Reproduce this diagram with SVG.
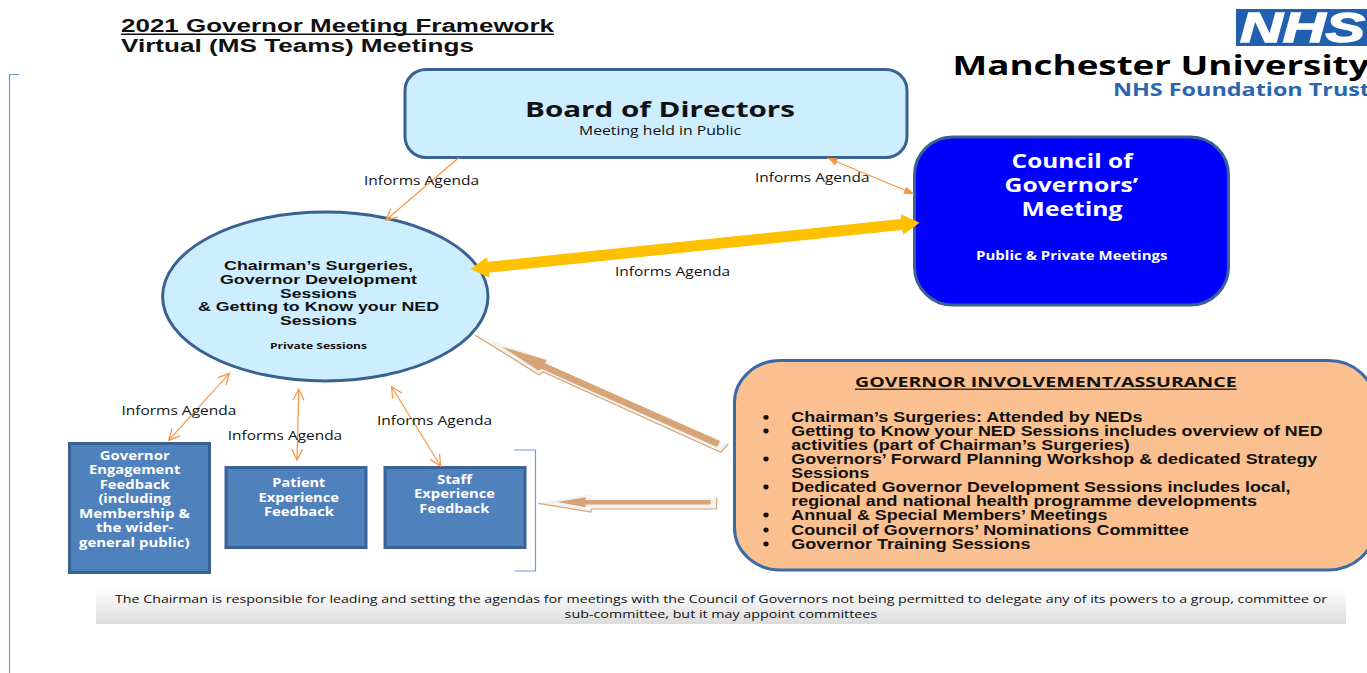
<svg xmlns="http://www.w3.org/2000/svg" width="1367" height="673" viewBox="0 0 1367 673">
<style>
text{font-family:"Open Sans","Noto Sans","DejaVu Sans",sans-serif;fill:#111}
.ar{font-family:"Liberation Sans",Arial,sans-serif;font-weight:700}
.b{font-weight:700}
.w{fill:#fff;font-weight:700}
.lbl{font-size:12px}
.box{font-size:12px}
.list{font-size:14.5px;fill:#111}
.thin{fill:none;stroke:#f79646;stroke-width:1.2}
.panel{stroke:#3a6190;stroke-width:3}
.fb{fill:#4f81bd;stroke:#3a6295;stroke-width:3}
.brk{fill:none;stroke:#6f9bd8;stroke-width:1.2}
.hollow{fill:#f2f2f2;stroke:none}
.edge{fill:none;stroke:#d6a477;stroke-width:1.2}
.core{fill:#d6a477;stroke:none}
.dot{fill:#111}
</style>
<defs>
<marker id="open" viewBox="0 0 12 12" refX="11" refY="6" markerWidth="13" markerHeight="13" markerUnits="userSpaceOnUse" orient="auto-start-reverse"><path d="M1 1L11 6L1 11" fill="none" stroke="#f79646" stroke-width="1.2"/></marker>
<marker id="solid" viewBox="0 0 10 8" refX="10" refY="4" markerWidth="10" markerHeight="8" markerUnits="userSpaceOnUse" orient="auto-start-reverse"><path d="M0 0L10 4L0 8Z" fill="#f79646"/></marker>
<marker id="gold" viewBox="0 0 18 21" refX="2" refY="10.5" markerWidth="18" markerHeight="21" markerUnits="userSpaceOnUse" orient="auto-start-reverse"><path d="M0 0L18 10.5L0 21Z" fill="#ffc000"/></marker>
<linearGradient id="band" x1="0" y1="0" x2="0" y2="1"><stop offset="0" stop-color="#fff"/><stop offset="1" stop-color="#dcdcdc"/></linearGradient>
</defs>
<rect width="1367" height="673" fill="#fff"/>

<g id="title">
<text class="ar" x="121" y="32" font-size="18" textLength="433" lengthAdjust="spacingAndGlyphs">2021 Governor Meeting Framework</text>
<rect x="121" y="33.5" width="433" height="1.5" fill="#111"/>
<text class="ar" x="121" y="52" font-size="18" textLength="353" lengthAdjust="spacingAndGlyphs">Virtual (MS Teams) Meetings</text>
</g>

<g id="logo">
<rect x="1236" y="9" width="131" height="37" fill="#2060ae"/>
<text x="1240" y="42" font-size="43" font-style="italic" textLength="125" lengthAdjust="spacingAndGlyphs" stroke="#fff" stroke-width="1.4" style="font-family:'Liberation Sans',Arial,sans-serif;font-weight:700;fill:#fff">NHS</text>
<text class="b" x="952.5" y="74.5" font-size="26.5" textLength="417" lengthAdjust="spacingAndGlyphs" style="fill:#000">Manchester University</text>
<text class="b" x="1113" y="95.5" font-size="18" textLength="257" lengthAdjust="spacingAndGlyphs" style="fill:#2a66ae">NHS Foundation Trust</text>
</g>

<path id="left-bracket" class="brk" d="M19 74.5H9.5V673"/>

<g id="footer">
<rect x="96" y="588.5" width="1250" height="35.5" fill="url(#band)"/>
<text x="115" y="603.3" font-size="11.5" textLength="1212" lengthAdjust="spacingAndGlyphs">The Chairman is responsible for leading and setting the agendas for meetings with the Council of Governors not being permitted to delegate any of its powers to a group, committee or</text>
<text x="564.6" y="618.3" font-size="11.5" textLength="312.5" lengthAdjust="spacingAndGlyphs">sub-committee, but it may appoint committees</text>
</g>

<g id="board">
<rect class="panel" x="405" y="69.5" width="502" height="88" rx="21" ry="21" fill="#cceeff"/>
<text class="b" x="525" y="117" font-size="22" textLength="270" lengthAdjust="spacingAndGlyphs">Board of Directors</text>
<text x="579" y="135" font-size="12" textLength="162" lengthAdjust="spacingAndGlyphs">Meeting held in Public</text>
</g>

<g id="council">
<rect class="panel" x="914.5" y="137" width="314" height="168" rx="38" ry="38" fill="#0000ff"/>
<text class="w" x="1011.6" y="167.7" font-size="19" textLength="121" lengthAdjust="spacingAndGlyphs">Council of</text>
<text class="w" x="1004.6" y="192" font-size="19" textLength="133.5" lengthAdjust="spacingAndGlyphs">Governors’</text>
<text class="w" x="1021.6" y="216" font-size="19" textLength="101" lengthAdjust="spacingAndGlyphs">Meeting</text>
<text class="w" x="976" y="260" font-size="12" textLength="191.5" lengthAdjust="spacingAndGlyphs">Public &amp; Private Meetings</text>
</g>

<g id="surgeries">
<ellipse cx="325.3" cy="296.5" rx="162.7" ry="84.5" fill="#cceeff" stroke="#3a6190" stroke-width="3"/>
<text class="ar" x="224" y="270" font-size="13.5" textLength="189" lengthAdjust="spacingAndGlyphs">Chairman’s Surgeries,</text>
<text class="ar" x="220" y="284" font-size="13.5" textLength="197" lengthAdjust="spacingAndGlyphs">Governor Development</text>
<text class="ar" x="280" y="298" font-size="13.5" textLength="77" lengthAdjust="spacingAndGlyphs">Sessions</text>
<text class="ar" x="198" y="311" font-size="13.5" textLength="241" lengthAdjust="spacingAndGlyphs">&amp; Getting to Know your NED</text>
<text class="ar" x="280" y="325" font-size="13.5" textLength="77" lengthAdjust="spacingAndGlyphs">Sessions</text>
<text class="b" x="270" y="348.5" font-size="9.5" textLength="97" lengthAdjust="spacingAndGlyphs">Private Sessions</text>
</g>

<g id="governor-feedback">
<rect class="fb" x="69.5" y="443.5" width="140" height="129"/>
<text class="w box" x="99.7" y="460" textLength="70" lengthAdjust="spacingAndGlyphs">Governor</text>
<text class="w box" x="89" y="474.3" textLength="91.4" lengthAdjust="spacingAndGlyphs">Engagement</text>
<text class="w box" x="99.7" y="489" textLength="70" lengthAdjust="spacingAndGlyphs">Feedback</text>
<text class="w box" x="98.4" y="503.3" textLength="72.5" lengthAdjust="spacingAndGlyphs">(including</text>
<text class="w box" x="79" y="518" textLength="111" lengthAdjust="spacingAndGlyphs">Membership &amp;</text>
<text class="w box" x="96" y="532.3" textLength="77.5" lengthAdjust="spacingAndGlyphs">the wider-</text>
<text class="w box" x="79" y="547" textLength="110.5" lengthAdjust="spacingAndGlyphs">general public)</text>
</g>

<g id="patient-feedback">
<rect class="fb" x="226" y="467.5" width="140" height="80"/>
<text class="w box" x="272.3" y="487" textLength="53" lengthAdjust="spacingAndGlyphs">Patient</text>
<text class="w box" x="258.5" y="502" textLength="80.5" lengthAdjust="spacingAndGlyphs">Experience</text>
<text class="w box" x="264" y="516" textLength="70" lengthAdjust="spacingAndGlyphs">Feedback</text>
</g>

<g id="staff-feedback">
<rect class="fb" x="385" y="467.5" width="140" height="80"/>
<text class="w box" x="437" y="483.7" textLength="35" lengthAdjust="spacingAndGlyphs">Staff</text>
<text class="w box" x="414" y="498.3" textLength="81" lengthAdjust="spacingAndGlyphs">Experience</text>
<text class="w box" x="419.3" y="513" textLength="70" lengthAdjust="spacingAndGlyphs">Feedback</text>
</g>

<path id="right-bracket" class="brk" d="M514.3 450H535.5V571H514.3"/>

<g id="assurance">
<rect x="734.5" y="360.5" width="640" height="209.5" rx="46" ry="42" fill="#fac090" stroke="#3a6ba5" stroke-width="3"/>
<text class="b" x="855" y="387" font-size="15" textLength="381.7" lengthAdjust="spacingAndGlyphs">GOVERNOR INVOLVEMENT/ASSURANCE</text>
<rect x="855" y="388.6" width="381.7" height="1.2" fill="#111"/>
<ellipse class="dot" cx="766" cy="417.3" rx="2.6" ry="2.4"/>
<ellipse class="dot" cx="766" cy="431" rx="2.6" ry="2.4"/>
<ellipse class="dot" cx="766" cy="459" rx="2.6" ry="2.4"/>
<ellipse class="dot" cx="766" cy="487" rx="2.6" ry="2.4"/>
<ellipse class="dot" cx="766" cy="515" rx="2.6" ry="2.4"/>
<ellipse class="dot" cx="766" cy="530" rx="2.6" ry="2.4"/>
<ellipse class="dot" cx="766" cy="544" rx="2.6" ry="2.4"/>
<text class="ar list" x="791.3" y="422" textLength="351.2" lengthAdjust="spacingAndGlyphs">Chairman’s Surgeries: Attended by NEDs</text>
<text class="ar list" x="791.3" y="436" textLength="531.3" lengthAdjust="spacingAndGlyphs">Getting to Know your NED Sessions includes overview of NED</text>
<text class="ar list" x="791.3" y="450" textLength="338.5" lengthAdjust="spacingAndGlyphs">activities (part of Chairman’s Surgeries)</text>
<text class="ar list" x="791.3" y="464" textLength="526" lengthAdjust="spacingAndGlyphs">Governors’ Forward Planning Workshop &amp; dedicated Strategy</text>
<text class="ar list" x="791.3" y="478" textLength="78" lengthAdjust="spacingAndGlyphs">Sessions</text>
<text class="ar list" x="791.3" y="492" textLength="499.3" lengthAdjust="spacingAndGlyphs">Dedicated Governor Development Sessions includes local,</text>
<text class="ar list" x="791.3" y="506" textLength="465.6" lengthAdjust="spacingAndGlyphs">regional and national health programme developments</text>
<text class="ar list" x="791.3" y="520" textLength="316.2" lengthAdjust="spacingAndGlyphs">Annual &amp; Special Members’ Meetings</text>
<text class="ar list" x="791.3" y="535" textLength="397.7" lengthAdjust="spacingAndGlyphs">Council of Governors’ Nominations Committee</text>
<text class="ar list" x="791.3" y="549" textLength="239.1" lengthAdjust="spacingAndGlyphs">Governor Training Sessions</text>
</g>

<g id="connectors">
<line class="thin" x1="459" y1="157.5" x2="386" y2="220" marker-end="url(#open)"/>
<line class="thin" x1="827.6" y1="158" x2="914" y2="194" marker-start="url(#solid)" marker-end="url(#solid)"/>
<line x1="486.4" y1="267.4" x2="903.7" y2="224.3" stroke="#ffc000" stroke-width="11" marker-start="url(#gold)" marker-end="url(#gold)"/>
<line class="thin" x1="229.4" y1="373.3" x2="168.7" y2="440.3" marker-start="url(#open)" marker-end="url(#open)"/>
<line class="thin" x1="298.8" y1="389.3" x2="297" y2="460" marker-start="url(#open)" marker-end="url(#open)"/>
<line class="thin" x1="391.6" y1="386.7" x2="440.6" y2="466" marker-start="url(#open)" marker-end="url(#open)"/>
<g id="assurance-to-surgeries">
<path class="hollow" d="M475 335L554 361.7L546 365L728.3 444L720.7 452.3L542.7 371.7L539.3 375Z"/>
<path class="edge" d="M475 335L539.3 375L542.7 371.7L720.7 452.3L728.3 444"/>
<path class="core" d="M501.7 346.7L546.7 360L545 363.3L720 441L717 447L541.7 369L538.3 370.5Z"/>
</g>
<g id="assurance-to-feedback">
<path class="hollow" d="M538.3 503.3L591.7 494V497.7H716.7V509H591.7L590.7 512Z"/>
<path class="edge" d="M538.3 503.3L590.7 512L591.7 509H716.7V497.7"/>
<path class="core" d="M557.3 502L585.7 497.3V500H710.7V504.5H585.7V507.3Z"/>
</g>
</g>

<g id="connector-labels">
<text class="lbl" x="364" y="185" textLength="115" lengthAdjust="spacingAndGlyphs">Informs Agenda</text>
<text class="lbl" x="755" y="182" textLength="114.5" lengthAdjust="spacingAndGlyphs">Informs Agenda</text>
<text class="lbl" x="615" y="276" textLength="115" lengthAdjust="spacingAndGlyphs">Informs Agenda</text>
<text class="lbl" x="121.4" y="415" textLength="115" lengthAdjust="spacingAndGlyphs">Informs Agenda</text>
<text class="lbl" x="227.7" y="440" textLength="114.5" lengthAdjust="spacingAndGlyphs">Informs Agenda</text>
<text class="lbl" x="377" y="425" textLength="115" lengthAdjust="spacingAndGlyphs">Informs Agenda</text>
</g>
</svg>
